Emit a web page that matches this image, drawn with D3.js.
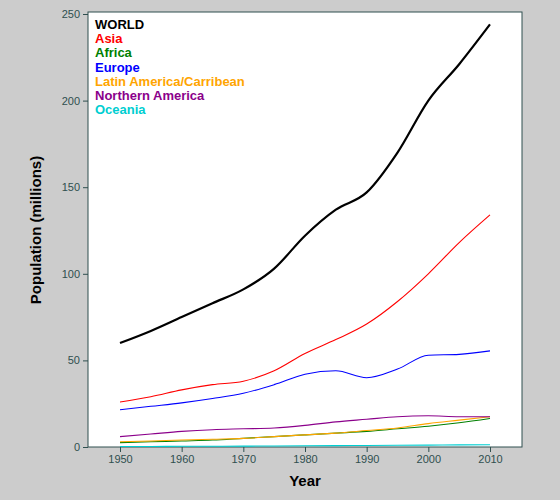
<!DOCTYPE html><html><head><script src="https://cdn.jsdelivr.net/npm/d3@7"></script>
<style>body{margin:0;background:#cccccc}</style></head><body><script>
const years=[1950,1955,1960,1965,1970,1975,1980,1985,1990,1995,2000,2005,2010];
const world=[60,67,75,83,91,103,122,137,147,170,200,221,244];
const asia=[26,29,33,36,38,44,54,62,71,84,100,118,134];
const africa=[2.5,3,3.5,4,5,6,7,8,9,10.5,12,14,16.5];
const europe=[21.5,23.5,25.5,28,31,36,42,44,40,45,53,53.5,55.5];
const latam=[3,3.5,4,4.5,5,6,7,8,9.5,11,13.5,15.5,17.5];
const namerica=[6,7.5,9,10,10.5,11,12.5,14.5,16,17.5,18,17.5,17.5];
const oceania=[0.3,0.3,0.4,0.4,0.5,0.6,0.7,0.8,0.9,1,1.1,1.2,1.3];
const names=["WORLD","Asia","Africa","Europe","Latin America/Carribean","Northern America","Oceania"];
const colors=["#000000","#ff0000","#008000","#0000ff","#ffa500","#8b008b","#00ced1"];
const series=[world,asia,africa,europe,latam,namerica,oceania];
const yTicks=[0,50,100,150,200,250];
const xTicks=[1950,1960,1970,1980,1990,2000,2010];
const W=560,H=500,L=88,R=522,T=12,B=447;
const svg=d3.select("body").append("svg").attr("width",W).attr("height",H).style("font-family","Arial, Liberation Sans, sans-serif");
svg.append("rect").attr("x",L).attr("y",T).attr("width",R-L).attr("height",B-T).attr("fill","#fff").attr("stroke","#2f4f4f");
const x=d3.scaleLinear().domain([1950,2010]).range([120,490]);
const y=d3.scaleLinear().domain([0,250]).range([B,14]);
const ax=svg.append("g").attr("transform",`translate(0,${B})`).call(d3.axisBottom(x).tickValues(xTicks).tickSize(5).tickFormat(d3.format("d")));
const ay=svg.append("g").attr("transform",`translate(${L},0)`).call(d3.axisLeft(y).tickValues(yTicks).tickSize(5));
[ax,ay].forEach(a=>{a.select(".domain").remove();a.selectAll("line").attr("stroke","#2f4f4f");a.selectAll("text").attr("fill","#2f4f4f").style("font-size","11px");});
const line=d3.line().x((d,i)=>x(years[i])).y(d=>y(d)).curve(d3.curveMonotoneX);
series.forEach((s,i)=>svg.append("path").attr("d",line(s)).attr("fill","none").attr("stroke",colors[i]).attr("stroke-width",i==0?2.2:1.1));
names.forEach((n,i)=>svg.append("text").attr("x",95).attr("y",29+i*14.2).text(n).attr("fill",colors[i]).style("font-weight","bold").style("font-size","13px"));
svg.append("text").attr("x",305).attr("y",486).attr("text-anchor","middle").text("Year").style("font-weight","bold").style("font-size","15px");
svg.append("text").attr("transform","translate(41,230) rotate(-90)").attr("text-anchor","middle").text("Population (millions)").style("font-weight","bold").style("font-size","15px");
</script></body></html>
